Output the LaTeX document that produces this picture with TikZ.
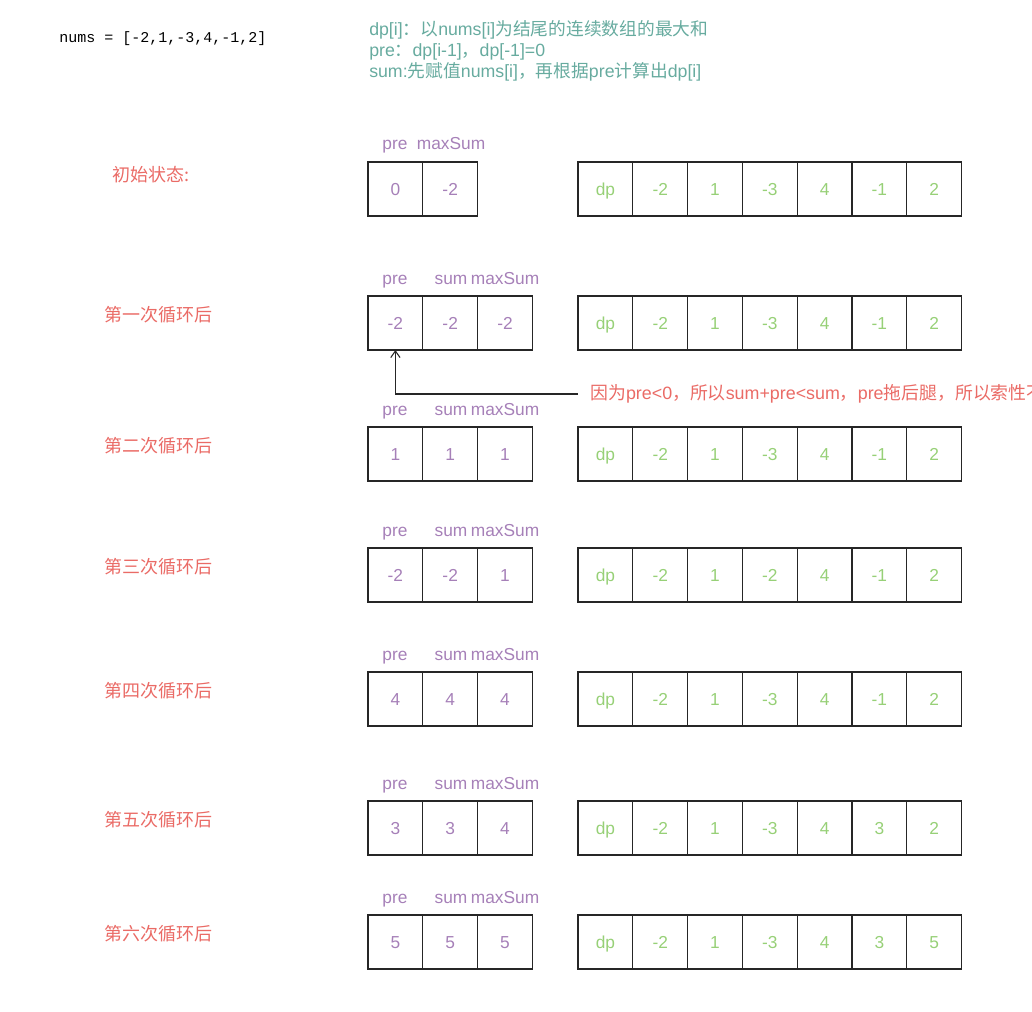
\documentclass[tikz,border=0pt]{standalone}
\usepackage{fontspec}
\setmainfont{Liberation Sans}
\setmonofont{Liberation Mono}
\newfontfamily\cjk{Noto Sans CJK SC}
\newcommand{\zh}[1]{{\cjk #1}}
\usetikzlibrary{arrows.meta,positioning}
\definecolor{varpurple}{HTML}{A680B8}
\definecolor{dpgreen}{HTML}{97D077}
\definecolor{stepred}{HTML}{EA6B66}
\definecolor{noteteal}{HTML}{67AB9F}

\begin{document}
\begin{tikzpicture}[x=0.75pt,y=-0.75pt,
 cell/.style={draw=black!85,line width=1pt,minimum width=41.1pt,minimum height=40.5pt,
              inner sep=0pt,outer sep=0pt,text height=9.3pt,text depth=0pt,
              font=\fontsize{13}{15}\selectfont},
 var/.style={cell,text=varpurple},
 dpcell/.style={cell,text=dpgreen},
 head/.style={text=varpurple,inner sep=0pt,text height=9.3pt,text depth=0pt,
              font=\fontsize{13}{15}\selectfont},
 steplabel/.style={text=stepred,inner sep=0pt,font=\fontsize{13.5}{15}\selectfont\cjk},
 remark/.style={text=stepred,anchor=west,inner xsep=9pt,inner ysep=0pt,font=\fontsize{13.4}{15}\selectfont},
 arrow/.style={-{Straight Barb[length=5pt,width=7pt]},line width=0.8pt,draw=black!85}
]
\useasboundingbox (0,0) rectangle (1032,1011);
\node[anchor=west,inner sep=0pt,font=\ttfamily\fontsize{11.25}{13}\selectfont] (nums) at (59,39) {nums = [-2,1,-3,4,-1,2]};
\node[anchor=north west,inner sep=0pt,align=left,text=noteteal,font=\fontsize{13.3}{15.75}\selectfont] (defs) at (369,20)
 {dp[i]\zh{：以}nums[i]\zh{为结尾的连续数组的最大和}\\
  pre\zh{：}dp[i-1]\zh{，}dp[-1]=0\\
  sum:\zh{先赋值}nums[i]\zh{，再根据}pre\zh{计算出}dp[i]};
% initial state
\node[steplabel] (lab0) at (151,175) {初始状态:};
\node[head] (pre0) at (395,143) {pre};
\node[head] (max0) at (451,143) {maxSum};
\foreach \v [count=\i] in {0,-2}
  \node[var] (v0-\i) at ({395.4+54.8*(\i-1)},189) {\v};
\node[dpcell] (dp0-0) at (605.4,189) {dp};
\foreach \v [count=\i] in {-2,1,-3,4,-1,2}
  \node[dpcell] (dp0-\i) at ({605.4+54.8*\i},189) {\v};
% loop rounds
\foreach \r/\y/\lab/\vals/\dps in {
  1/323/第一次循环后/{-2,-2,-2}/{-2,1,-3,4,-1,2},
  2/454/第二次循环后/{1,1,1}/{-2,1,-3,4,-1,2},
  3/575/第三次循环后/{-2,-2,1}/{-2,1,-2,4,-1,2},
  4/699/第四次循环后/{4,4,4}/{-2,1,-3,4,-1,2},
  5/828/第五次循环后/{3,3,4}/{-2,1,-3,4,3,2},
  6/942/第六次循环后/{5,5,5}/{-2,1,-3,4,3,5}}{
  \node[steplabel] (lab\r) at (158,\y-8) {\lab};
  \node[head] (pre\r) at (395,\y-45) {pre};
  \node[head] (sum\r) at (451,\y-45) {sum};
  \node[head] (max\r) at (505,\y-45) {maxSum};
  \foreach \v [count=\i] in \vals
    \node[var] (v\r-\i) at ({395.4+54.8*(\i-1)},\y) {\v};
  \node[dpcell] (dp\r-0) at (605.4,\y) {dp};
  \foreach \v [count=\i] in \dps
    \node[dpcell] (dp\r-\i) at ({605.4+54.8*\i},\y) {\v};
}
\node[remark] (why) at (578,394) {\zh{因为}pre<0\zh{，所以}sum+pre<sum\zh{，}pre\zh{拖后腿，所以索性不}};
\draw[arrow] (why.west) -| (v1-1.south);
\end{tikzpicture}
\end{document}
